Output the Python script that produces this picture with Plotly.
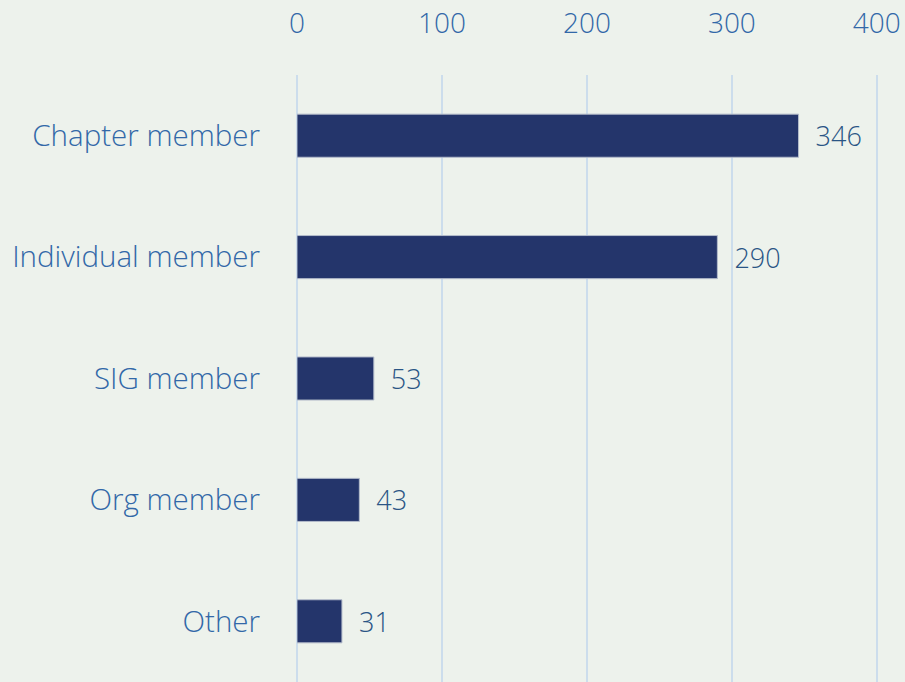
import plotly.graph_objects as go

categories = ["Chapter member", "Individual member", "SIG member", "Org member", "Other"]
values = [346, 290, 53, 43, 31]
tick_vals = [0, 100, 200, 300, 400]

FONT = "Open Sans"

fig = go.Figure(go.Bar(
    x=values,
    y=categories,
    orientation="h",
    width=0.355,
    marker=dict(color="#24356B", line=dict(color="#B4BCCB", width=1)),
    text=["\u00a0\u00a0" + str(v) for v in values],
    textposition="outside",
    textfont=dict(family=FONT, size=27, color="#2A5585", weight=300),
    cliponaxis=False,
))

fig.update_layout(
    width=905, height=682,
    paper_bgcolor="#EDF2EC",
    plot_bgcolor="#EDF2EC",
    margin=dict(l=297, r=26, t=75, b=0),
    showlegend=False,
    font=dict(family=FONT, color="#3268A8"),
    bargap=0.645,
)
fig.update_xaxes(
    side="top",
    range=[0, 401.5],
    tickvals=tick_vals,
    showgrid=True,
    gridcolor="#CCDDEC",
    gridwidth=2,
    zeroline=True,
    zerolinecolor="#CCDDEC",
    zerolinewidth=2,
    showline=False,
    tickfont=dict(family=FONT, size=28, color="#3268A8", weight=300),
    ticklabelstandoff=35,
)
fig.update_yaxes(
    categoryorder="array",
    categoryarray=categories[::-1],
    showgrid=False,
    showline=False,
    tickfont=dict(family=FONT, size=29.5, color="#3268A8", weight=300),
    ticklabelstandoff=36,
)
fig.write_html(
    "out.html",
    config={"displayModeBar": False},
    post_script="document.body.style.margin='0';document.body.style.overflow='hidden';",
)
